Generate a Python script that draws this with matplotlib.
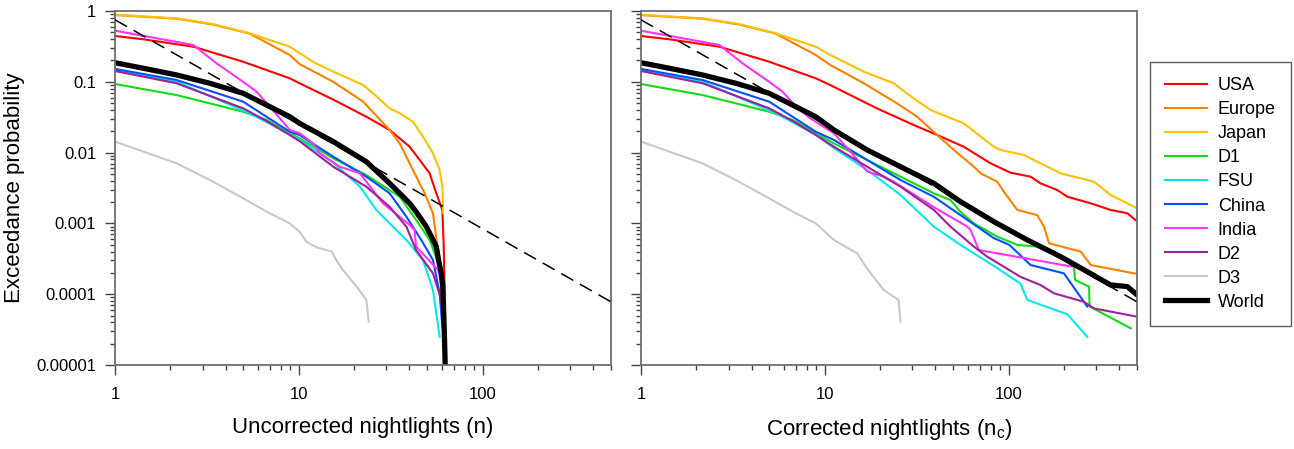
import matplotlib.pyplot as plt
from matplotlib.ticker import LogLocator, NullFormatter, FixedLocator, FixedFormatter

plt.rcParams["font.family"] = ["Liberation Sans", "DejaVu Sans"]

names = ["USA", "Europe", "Japan", "D1", "FSU", "China", "India", "D2", "D3", "World"]
colors = ["#ff0000", "#ff8000", "#ffc000", "#11dd11", "#00e8f0",
          "#0050ff", "#ff33ff", "#a0209a", "#c8c8c8", "#000000"]

# low-n part, identical in both panels
usa_head_n = [1, 1.43, 2.67, 4.98, 8.93]
usa_head_p = [0.444, 0.398, 0.313, 0.192, 0.112]
europe_head_n = [1, 2.16, 3.4, 5.4, 8.93]
europe_head_p = [0.875, 0.78, 0.645, 0.48, 0.239]
japan_head_n = [1, 2.16, 3.4, 5.4, 8.93]
japan_head_p = [0.887, 0.787, 0.655, 0.484, 0.313]
d1_head_n = [1, 2.16, 4.98, 6.67, 8.93]
d1_head_p = [0.093, 0.065, 0.0378, 0.029, 0.0187]
fsu_head_n = [1, 2.16, 5.4, 8.93]
fsu_head_p = [0.147, 0.10, 0.036, 0.018]
china_head_n = [1, 2.16, 4.98, 6.67, 8.93]
china_head_p = [0.152, 0.106, 0.0524, 0.0321, 0.0197]
india_head_n = [1, 2.67, 3.57, 4.98, 5.89, 6.96]
india_head_p = [0.527, 0.331, 0.182, 0.1, 0.0725, 0.0445]
d2_head_n = [1, 2.16, 4.98, 6.67, 8.93]
d2_head_p = [0.142, 0.0953, 0.0422, 0.028, 0.0177]
d3_head_n = [1, 2.16, 3.28, 4.98, 6.67, 8.93]
d3_head_p = [0.0143, 0.00706, 0.0041, 0.00226, 0.00147, 0.001]
world_head_n = [1, 1.43, 2.16, 3.28, 4.98, 6.67, 8.93]
world_head_p = [0.186, 0.155, 0.125, 0.0953, 0.0688, 0.047, 0.0321]

# uncorrected nightlights (n)
usa_raw_n = [10.1, 15.4, 23.3, 31.2, 40.1, 45.5, 51.5, 56.0, 60.4, 61.4, 62.1]
usa_raw_p = [0.0953, 0.056, 0.0321, 0.0209, 0.0121, 0.00786, 0.0051, 0.00266, 0.00155, 0.000524, 0.000128]
europe_raw_n = [10.1, 15.4, 22.4, 31.2, 35.4, 41.8, 48.4, 53.7, 57.2, 60.8, 62.5]
europe_raw_p = [0.178, 0.1, 0.0524, 0.0209, 0.0135, 0.00568, 0.00266, 0.00139, 0.00042, 0.000159, 0.0001]
japan_raw_n = [12.0, 15.4, 22.4, 26.0, 31.2, 35.4, 41.8, 47.4, 53.7, 58.4, 60.4, 61.0]
japan_raw_p = [0.19, 0.139, 0.090, 0.065, 0.042, 0.036, 0.0273, 0.0168, 0.0098, 0.00568, 0.0033, 0.0014]
d1_raw_n = [10.1, 15.4, 23.3, 35.4, 43.5, 51.5, 58.4, 60.8]
d1_raw_p = [0.0159, 0.0083, 0.00483, 0.00238, 0.00112, 0.000583, 0.000245, 5.4e-5]
fsu_raw_n = [10.1, 15.4, 21.5, 26.4, 31.2, 38.5, 47.4, 53.7, 58.4]
fsu_raw_p = [0.0151, 0.0072, 0.0033, 0.00155, 0.001, 0.000583, 0.000304, 0.000115, 2.5e-5]
china_raw_n = [10.1, 15.4, 23.3, 31.2, 38.5, 46.4, 53.7, 58.4, 60.4]
china_raw_p = [0.0177, 0.00875, 0.00457, 0.00266, 0.00124, 0.000583, 0.000304, 0.000103, 3.5e-5]
india_raw_n = [8.93, 10.1, 12.0, 13.0, 16.7, 21.5, 28.7, 40.1, 42.6, 43.5, 57.2, 59.5]
india_raw_p = [0.0209, 0.0187, 0.0135, 0.0098, 0.00632, 0.0051, 0.00192, 0.00095, 0.00081, 0.00047, 0.00022, 0.00015]
d2_raw_n = [10.1, 15.4, 23.3, 31.2, 38.5, 43.5, 53.7, 59.6, 61]
d2_raw_p = [0.0145, 0.00632, 0.0033, 0.00172, 0.0009, 0.00042, 0.000197, 8.3e-5, 5e-5]
d3_raw_n = [10.1, 11.0, 12.5, 13.0, 15.1, 16.0, 17.1, 18.9, 21.0, 23.3, 24.0]
d3_raw_p = [0.00076, 0.00055, 0.00046, 0.000445, 0.0004, 0.000304, 0.000232, 0.000168, 0.000121, 8.3e-5, 4.1e-5]
world_raw_n = [10.1, 15.4, 23.3, 31.2, 35.4, 40.1, 43.5, 49.4, 52.7, 56.0, 57.6, 59.6, 60.8, 61.4, 62.7]
world_raw_p = [0.0259, 0.0143, 0.00744, 0.00368, 0.00266, 0.00192, 0.00146, 0.0009, 0.00065, 0.000469, 0.000304,
               0.000197, 0.000128, 6e-5, 9e-6]

# corrected nightlights (n_c)
usa_cor_n = [10.7, 19.2, 30.5, 40.9, 57, 79.8, 102.5, 131.8, 149, 184, 209, 280, 359, 443, 502]
usa_cor_p = [0.09, 0.0422, 0.0245, 0.0177, 0.0121, 0.00706, 0.0052, 0.00457, 0.00368, 0.00296, 0.00238, 0.00192, 0.00155, 0.00139, 0.00106]
europe_cor_n = [10.7, 16.3, 24.7, 31.8, 40.9, 50.4, 64.7, 70.3, 86.8, 94.3, 111.5, 143, 156, 166, 247, 280, 502]
europe_cor_p = [0.173, 0.0953, 0.0497, 0.0321, 0.0177, 0.0109, 0.00632, 0.0051, 0.00388, 0.0028, 0.00155, 0.00131, 0.0009, 0.000524, 0.0004, 0.000258, 0.000193]
japan_cor_n = [10.7, 16.3, 23.7, 30.5, 37.6, 57.0, 83.1, 90.4, 121, 191.9, 291.6, 359, 502]
japan_cor_p = [0.239, 0.139, 0.0953, 0.058, 0.04, 0.0259, 0.0121, 0.0109, 0.00925, 0.0051, 0.00388, 0.00252, 0.00163]
d1_cor_n = [11.2, 17.0, 25.8, 39.2, 48.3, 54.7, 64.7, 86.8, 111.5, 143, 184, 227, 230, 274, 276, 462]
d1_cor_p = [0.0135, 0.00786, 0.00457, 0.00266, 0.00214, 0.00146, 0.001, 0.00065, 0.000497, 0.00047, 0.000377, 0.000245, 0.000159, 0.000128, 6.7e-5, 3.3e-5]
fsu_cor_n = [11.2, 17.0, 25.8, 39.2, 54.7, 86.8, 116, 126.5, 209, 268]
fsu_cor_p = [0.0116, 0.00568, 0.00252, 0.0009, 0.000497, 0.000234, 0.000141, 8.3e-5, 5.2e-5, 2.5e-5]
china_cor_n = [11.2, 17.0, 25.8, 39.2, 54.7, 83.1, 101, 131.8, 200, 268]
china_cor_p = [0.0151, 0.00786, 0.0041, 0.00238, 0.00131, 0.00062, 0.000497, 0.000258, 0.000197, 6.7e-5]
india_cor_n = [8.34, 11.2, 13.8, 17.0, 20.9, 23.7, 39.2, 59.6, 62.1, 68.9, 257]
india_cor_p = [0.0305, 0.0187, 0.0103, 0.0054, 0.00457, 0.00388, 0.0017, 0.0009, 0.00081, 0.00042, 0.000229]
d2_cor_n = [11.2, 17.0, 25.8, 39.2, 48.3, 64.7, 76.5, 116, 149, 176.6, 257, 291.6, 502]
d2_cor_p = [0.0121, 0.00632, 0.0033, 0.00155, 0.0009, 0.00047, 0.000339, 0.000176, 0.000135, 0.000103, 7.8e-5, 6.3e-5, 4.8e-5]
d3_cor_n = [11.2, 15.0, 17.0, 20.9, 25.2, 25.8]
d3_cor_p = [0.000583, 0.000377, 0.000229, 0.000115, 8.3e-5, 4.1e-5]
world_cor_n = [11.2, 17.0, 25.8, 39.2, 54.7, 83.1, 126.5, 191.9, 268, 359, 443, 502]
world_cor_p = [0.0209, 0.0109, 0.00632, 0.00368, 0.00203, 0.00106, 0.000583, 0.000339, 0.000208, 0.000135, 0.000128, 9.7e-5]

# dashed power-law reference, end points
ref_n = [1, 500]
ref_p = [0.75, 7.8e-5]

heads = [(usa_head_n, usa_head_p), (europe_head_n, europe_head_p), (japan_head_n, japan_head_p),
         (d1_head_n, d1_head_p), (fsu_head_n, fsu_head_p), (china_head_n, china_head_p),
         (india_head_n, india_head_p), (d2_head_n, d2_head_p), (d3_head_n, d3_head_p),
         (world_head_n, world_head_p)]
raw = [(usa_raw_n, usa_raw_p), (europe_raw_n, europe_raw_p), (japan_raw_n, japan_raw_p),
       (d1_raw_n, d1_raw_p), (fsu_raw_n, fsu_raw_p), (china_raw_n, china_raw_p),
       (india_raw_n, india_raw_p), (d2_raw_n, d2_raw_p), (d3_raw_n, d3_raw_p),
       (world_raw_n, world_raw_p)]
cor = [(usa_cor_n, usa_cor_p), (europe_cor_n, europe_cor_p), (japan_cor_n, japan_cor_p),
       (d1_cor_n, d1_cor_p), (fsu_cor_n, fsu_cor_p), (china_cor_n, china_cor_p),
       (india_cor_n, india_cor_p), (d2_cor_n, d2_cor_p), (d3_cor_n, d3_cor_p),
       (world_cor_n, world_cor_p)]

fig = plt.figure(figsize=(12.94, 4.49), dpi=100)
ax1 = fig.add_axes([0.0889, 0.1871, 0.3833, 0.7884])
ax2 = fig.add_axes([0.4954, 0.1871, 0.3833, 0.7884])

spine_col = "#6e6e6e"
handles = []
for ax, tails in [(ax1, raw), (ax2, cor)]:
    for name, col, (hn, hp), (tn, tp) in zip(names, colors, heads, tails):
        lw = 3.8 if name == "World" else 1.5
        line, = ax.plot(hn + tn, hp + tp, color=col, lw=lw, label=name,
                        solid_joinstyle="round")
        if ax is ax1:
            handles.append(line)
    ax.plot(ref_n, ref_p, color="black", lw=1.1, ls=(0, (9, 5)), zorder=5)

    ax.set_xscale("log")
    ax.set_yscale("log")
    ax.set_xlim(1, 500)
    ax.set_ylim(1e-5, 1)
    for s in ax.spines.values():
        s.set_color(spine_col)
        s.set_linewidth(1.3)
    ax.tick_params(which="major", direction="out", length=7.5, width=1, color="#444444",
                   labelsize=12, top=False, right=False)
    ax.tick_params(which="minor", direction="out", length=3.8, width=1, color="#444444",
                   top=False, right=False)
    ax.tick_params(axis="x", which="major", pad=8)
    ax.tick_params(axis="y", which="major", pad=6)
    ax.xaxis.set_major_locator(FixedLocator([1, 10, 100]))
    ax.xaxis.set_major_formatter(FixedFormatter(["1", "10", "100"]))
    ax.xaxis.set_minor_locator(LogLocator(base=10, subs=range(2, 10)))
    ax.xaxis.set_minor_formatter(NullFormatter())
    ax.yaxis.set_major_locator(FixedLocator([1e-5, 1e-4, 1e-3, 1e-2, 1e-1, 1]))
    ax.yaxis.set_minor_locator(LogLocator(base=10, subs=range(2, 10)))
    ax.yaxis.set_minor_formatter(NullFormatter())

ax1.yaxis.set_major_formatter(FixedFormatter(["0.00001", "0.0001", "0.001", "0.01", "0.1", "1"]))
ax2.yaxis.set_major_formatter(NullFormatter())

ax1.set_xlabel("Uncorrected nightlights (n)", fontsize=16, labelpad=11)
ax2.set_xlabel(r"Corrected nightlights (n$_\mathregular{c}$)", fontsize=16, labelpad=11)
ax1.set_ylabel("Exceedance probability", fontsize=16, labelpad=8)

leg = fig.legend(handles=handles, loc="upper left", bbox_to_anchor=(0.8887, 0.862),
                 borderaxespad=0, frameon=True, fancybox=False, fontsize=13,
                 handlelength=2.3, handletextpad=0.6, labelspacing=0.39, borderpad=0.85)
leg.get_frame().set_edgecolor("#333333")
leg.get_frame().set_linewidth(1.0)

fig.savefig("out.png", dpi=100)
